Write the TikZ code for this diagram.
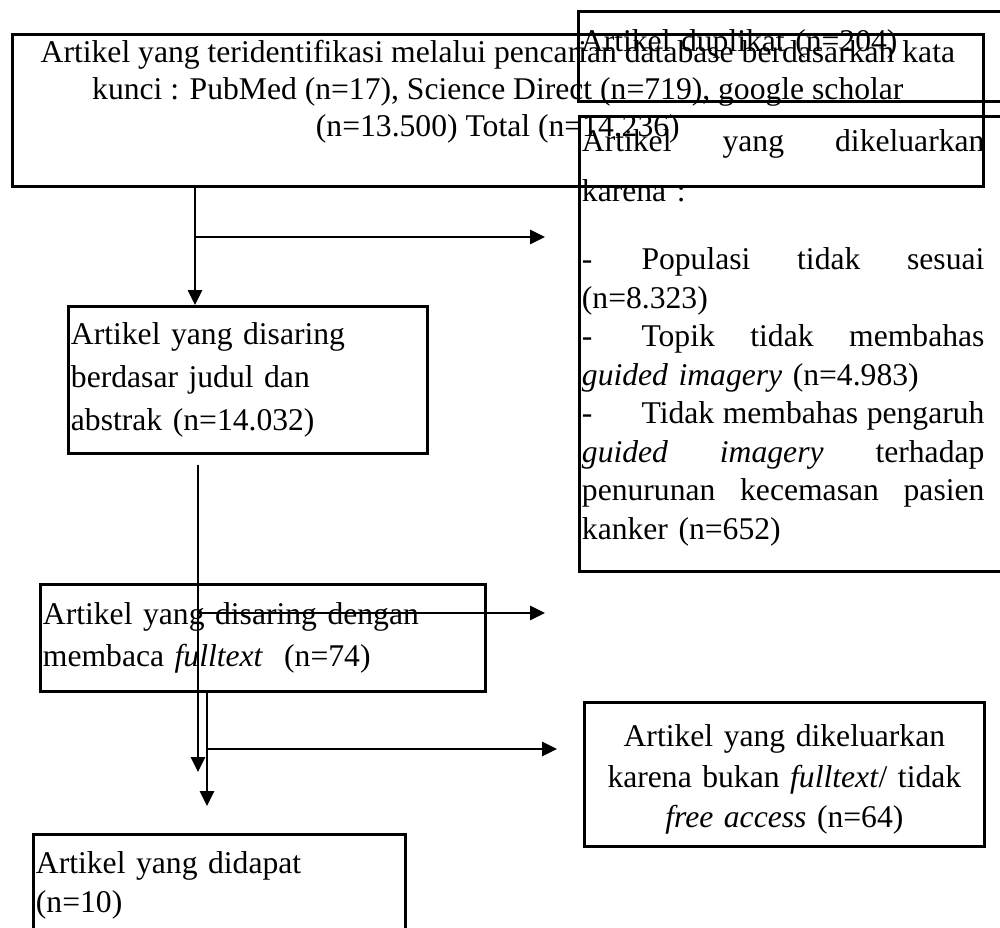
\documentclass[tikz,border=0pt]{standalone}
\usepackage{fontspec}
\setmainfont{Liberation Serif}
\usetikzlibrary{positioning,arrows.meta,calc}
\newlength{\kelw}\setlength{\kelw}{152.7pt}
\newcommand{\jline}[1]{\makebox[\kelw][s]{\spaceskip=0pt\xspaceskip=0pt\relax #1}}
\newcommand{\dline}[1]{\makebox[22.6pt][l]{-}\jrest{#1}}
\newcommand{\jrest}[1]{\makebox[\dimexpr\kelw-22.6pt\relax][s]{\spaceskip=0pt\xspaceskip=0pt\relax #1}}

\begin{document}
\begin{tikzpicture}[x=0.3794pt,y=-0.3794pt,
          every node/.style={font=\fontsize{12}{14}\selectfont},
          kotak/.style={draw,line width=1pt,anchor=north west,inner xsep=1pt,inner ysep=0pt},
          arr/.style={-{Triangle[length=5.6pt,width=5.4pt]},line width=0.45pt}]
        \useasboundingbox (0,0) rectangle (1000,928);
        \clip (0,0) rectangle (1000,928);
        % kotak-kotak
        \node[kotak, minimum width=368.4pt, minimum height=57.7pt, align=center]
        (ident) at (11,33)
        {\rule{0pt}{10pt}Artikel yang teridentifikasi melalui pencarian database berdasarkan kata\\
          kunci : PubMed (n=17), Science Direct (n=719), google scholar\\
          (n=13.500) Total (n=14.236)\\ \strut};
        \node[kotak, text width=162.3pt, align=left, text height=15.2pt, text depth=18.9pt]
        (dup) at (577,10)
        {Artikel duplikat (n=204)};
        \node[kotak, text width=161.9pt, minimum height=172.6pt, align=left,
          font=\fontsize{12}{14.6}\selectfont]
        (kel) at (578,115)
        {\jline{Artikel yang dikeluarkan}\\[4.2pt]
          karena :\\[11.3pt]
          \dline{Populasi tidak sesuai}\\
          (n=8.323)\\
          \dline{Topik tidak membahas}\\
          \textit{guided imagery} (n=4.983)\\
          \dline{Tidak membahas pengaruh}\\
          \jline{\textit{guided imagery} terhadap}\\
          \jline{penurunan kecemasan pasien}\\
          kanker (n=652)\rule[-7pt]{0pt}{1pt}};
        \node[kotak, text width=134.2pt, minimum height=55.8pt, align=left,
          font=\fontsize{12}{16.3}\selectfont]
        (judul) at (67,305)
        {Artikel yang disaring\\ berdasar judul dan\\ abstrak (n=14.032)};
        \node[kotak, text width=166.8pt, minimum height=40.6pt, align=left,
          font=\fontsize{12}{15.9}\selectfont]
        (full) at (39,583)
        {Artikel yang disaring dengan\\ membaca \textit{fulltext}\ \ (n=74)};
        \node[kotak, text width=139.1pt, minimum height=38.7pt, align=left,
          font=\fontsize{12}{14.8}\selectfont]
        (dapat) at (32,833)
        {Artikel yang didapat\\ (n=10)};
        \node[kotak, text width=149.8pt, minimum height=54.6pt, align=center,
          font=\fontsize{12}{15.4}\selectfont]
        (bukan) at (583,701)
        {\rule{0pt}{12.5pt}Artikel yang dikeluarkan\\ karena bukan \textit{fulltext}/ tidak\\
          \textit{free access} (n=64)};
        % panah
        \coordinate (s1) at (195,0); \coordinate (s2) at (198,0); \coordinate (s3) at (207,0);
        \coordinate (e1) at (545,237); \coordinate (e2) at (545,613); \coordinate (e3) at (557,749);
        \coordinate (t1) at (198,772); \coordinate (t2) at (207,806);
        \draw[arr] (s1 |- ident.south) -- (s1 |- judul.north);
        \draw[arr] (s1 |- e1) -- (e1);
        \draw[arr] ($(s2 |- judul.south)+(0,10)$) -- (t1);
        \draw[arr] (s2 |- e2) -- (e2);
        \draw[arr] (s3 |- full.south) -- (t2);
        \draw[arr] (s3 |- e3) -- (e3);
      \end{tikzpicture}
\end{document}
